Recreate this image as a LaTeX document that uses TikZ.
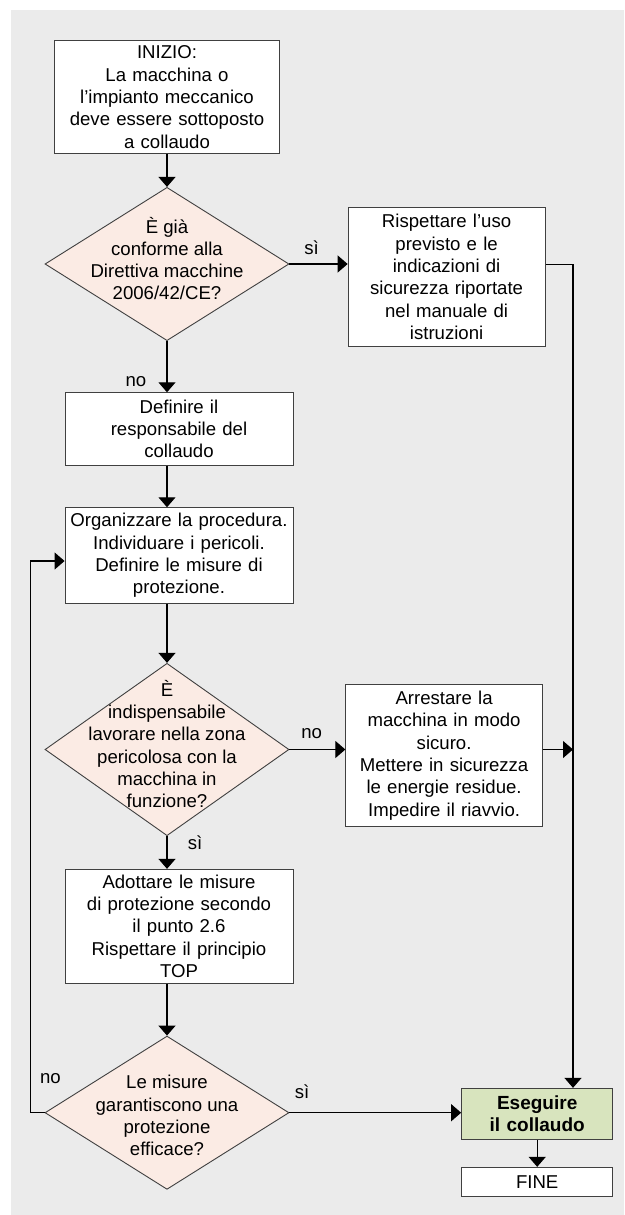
\documentclass[tikz,border=0pt]{standalone}
\usepackage{fontspec}
\setmainfont{Liberation Sans}
\usepackage{tikz}
\usepackage{xcolor}
\usetikzlibrary{arrows.meta,shapes.geometric}
\definecolor{panel-gray}{HTML}{EBEBEB}
\definecolor{decision-pink}{HTML}{FBEBE4}
\definecolor{final-green}{HTML}{D8E4BE}
\tikzset{
    step-box/.style = {draw=black!75, fill=white, line width=0.9pt, rectangle, inner sep=0pt, align=center, font=\fontsize{18.6}{22.3}\selectfont},
    decision-box/.style = {draw=black!75, fill=decision-pink, line width=0.9pt, diamond, inner sep=0pt, minimum width=244pt},
    decision-text/.style = {inner sep=0pt, align=center, font=\fontsize{18.6}{22.3}\selectfont},
    answer/.style = {inner sep=0pt, font=\fontsize{18.6}{22.3}\selectfont},
    flow-arrow/.style = {line width=1.2pt, -{Triangle[length=10pt,width=17pt]}},
}

\begin{document}
\begin{tikzpicture}[x=1pt,y=-1pt]
\useasboundingbox (0,0) rectangle (624,1215);
\fill[panel-gray] (11,10) rectangle (624,1215);

\node[step-box, text width=225pt, minimum height=112.6pt] (start) at (167,97) {INIZIO:\\La macchina o\\l'impianto meccanico\\deve essere sottoposto\\a collaudo};
\node[decision-box, minimum height=153.3pt] (conforme) at (167,264) {};
\node[decision-text] (conforme-text) at ([yshift=5.5pt]conforme.center) {È già\\conforme alla\\Direttiva macchine\\2006/42/CE?};
\node[step-box, text width=197pt, minimum height=139.4pt] (rispettare) at (446.6,277) {Rispettare l'uso\\previsto e le\\indicazioni di\\sicurezza riportate\\nel manuale di\\istruzioni};
\node[step-box, text width=228pt, minimum height=72.3pt] (responsabile) at (179,428.9) {Definire il\\responsabile del\\collaudo};
\node[step-box, text width=228pt, minimum height=95.6pt] (procedura) at (179,555.5) {Organizzare la procedura.\\Individuare i pericoli.\\Definire le misure di\\protezione.};
\node[decision-box, minimum height=172.4pt] (zona) at (167,749.5) {};
\node[decision-text] (zona-text) at ([yshift=5.5pt]zona.center) {È\\indispensabile\\lavorare nella zona\\pericolosa con la\\macchina in\\funzione?};
\node[step-box, text width=196.6pt, minimum height=142.4pt] (arrestare) at (444.1,755.5) {Arrestare la\\macchina in modo\\sicuro.\\Mettere in sicurezza\\le energie residue.\\Impedire il riavvio.};
\node[step-box, text width=228pt, minimum height=114pt] (misure) at (179,926.3) {Adottare le misure\\di protezione secondo\\il punto 2.6\\Rispettare il principio\\TOP};
\node[decision-box, minimum height=153.3pt] (efficace) at (167,1112.7) {};
\node[decision-text] (efficace-text) at ([yshift=-3pt]efficace.center) {Le misure\\garantiscono una\\protezione\\efficace?};
\node[step-box, fill=final-green, text width=151.2pt, minimum height=51pt, font=\fontsize{19}{22.3}\selectfont\bfseries] (collaudo) at (537.2,1113.8) {Eseguire\\il collaudo};
\node[step-box, text width=151.2pt, minimum height=29.4pt] (fine) at (537.2,1182) {FINE};
\coordinate (rail) at (573,264.5);

\draw[flow-arrow] (start) -- (conforme);
\draw[flow-arrow] (conforme.east) -- (conforme.east -| rispettare.west);
\draw[flow-arrow] (rispettare.east |- rail) -- (rail) -- (rail |- collaudo.north);
\draw[flow-arrow] (conforme.south) -- (conforme.south |- responsabile.north);
\draw[flow-arrow] (responsabile.south -| conforme) -- (procedura.north -| conforme);
\draw[flow-arrow] (procedura.south -| zona) -- (zona.north);
\draw[flow-arrow] (zona.east) -- (zona.east -| arrestare.west);
\draw[flow-arrow] (arrestare.east |- zona) -- (rail |- zona);
\draw[flow-arrow] (zona.south) -- (zona.south |- misure.north);
\draw[flow-arrow] (misure.south -| efficace) -- (efficace.north);
\draw[flow-arrow] (efficace.east) -- (efficace.east -| collaudo.west);
\draw[flow-arrow] (efficace.west) -- ++(-14,0) |- ([yshift=-5.5pt]procedura.west);
\draw[flow-arrow] (collaudo) -- (fine);

\node[answer] (si-conforme) at (311.6,248) {sì};
\node[answer] (no-conforme) at (136,382) {no};
\node[answer] (no-zona) at (311.6,734) {no};
\node[answer] (si-zona) at (195,843) {sì};
\node[answer] (no-efficace) at (50.5,1079) {no};
\node[answer] (si-efficace) at (302,1092) {sì};
\end{tikzpicture}
\end{document}
